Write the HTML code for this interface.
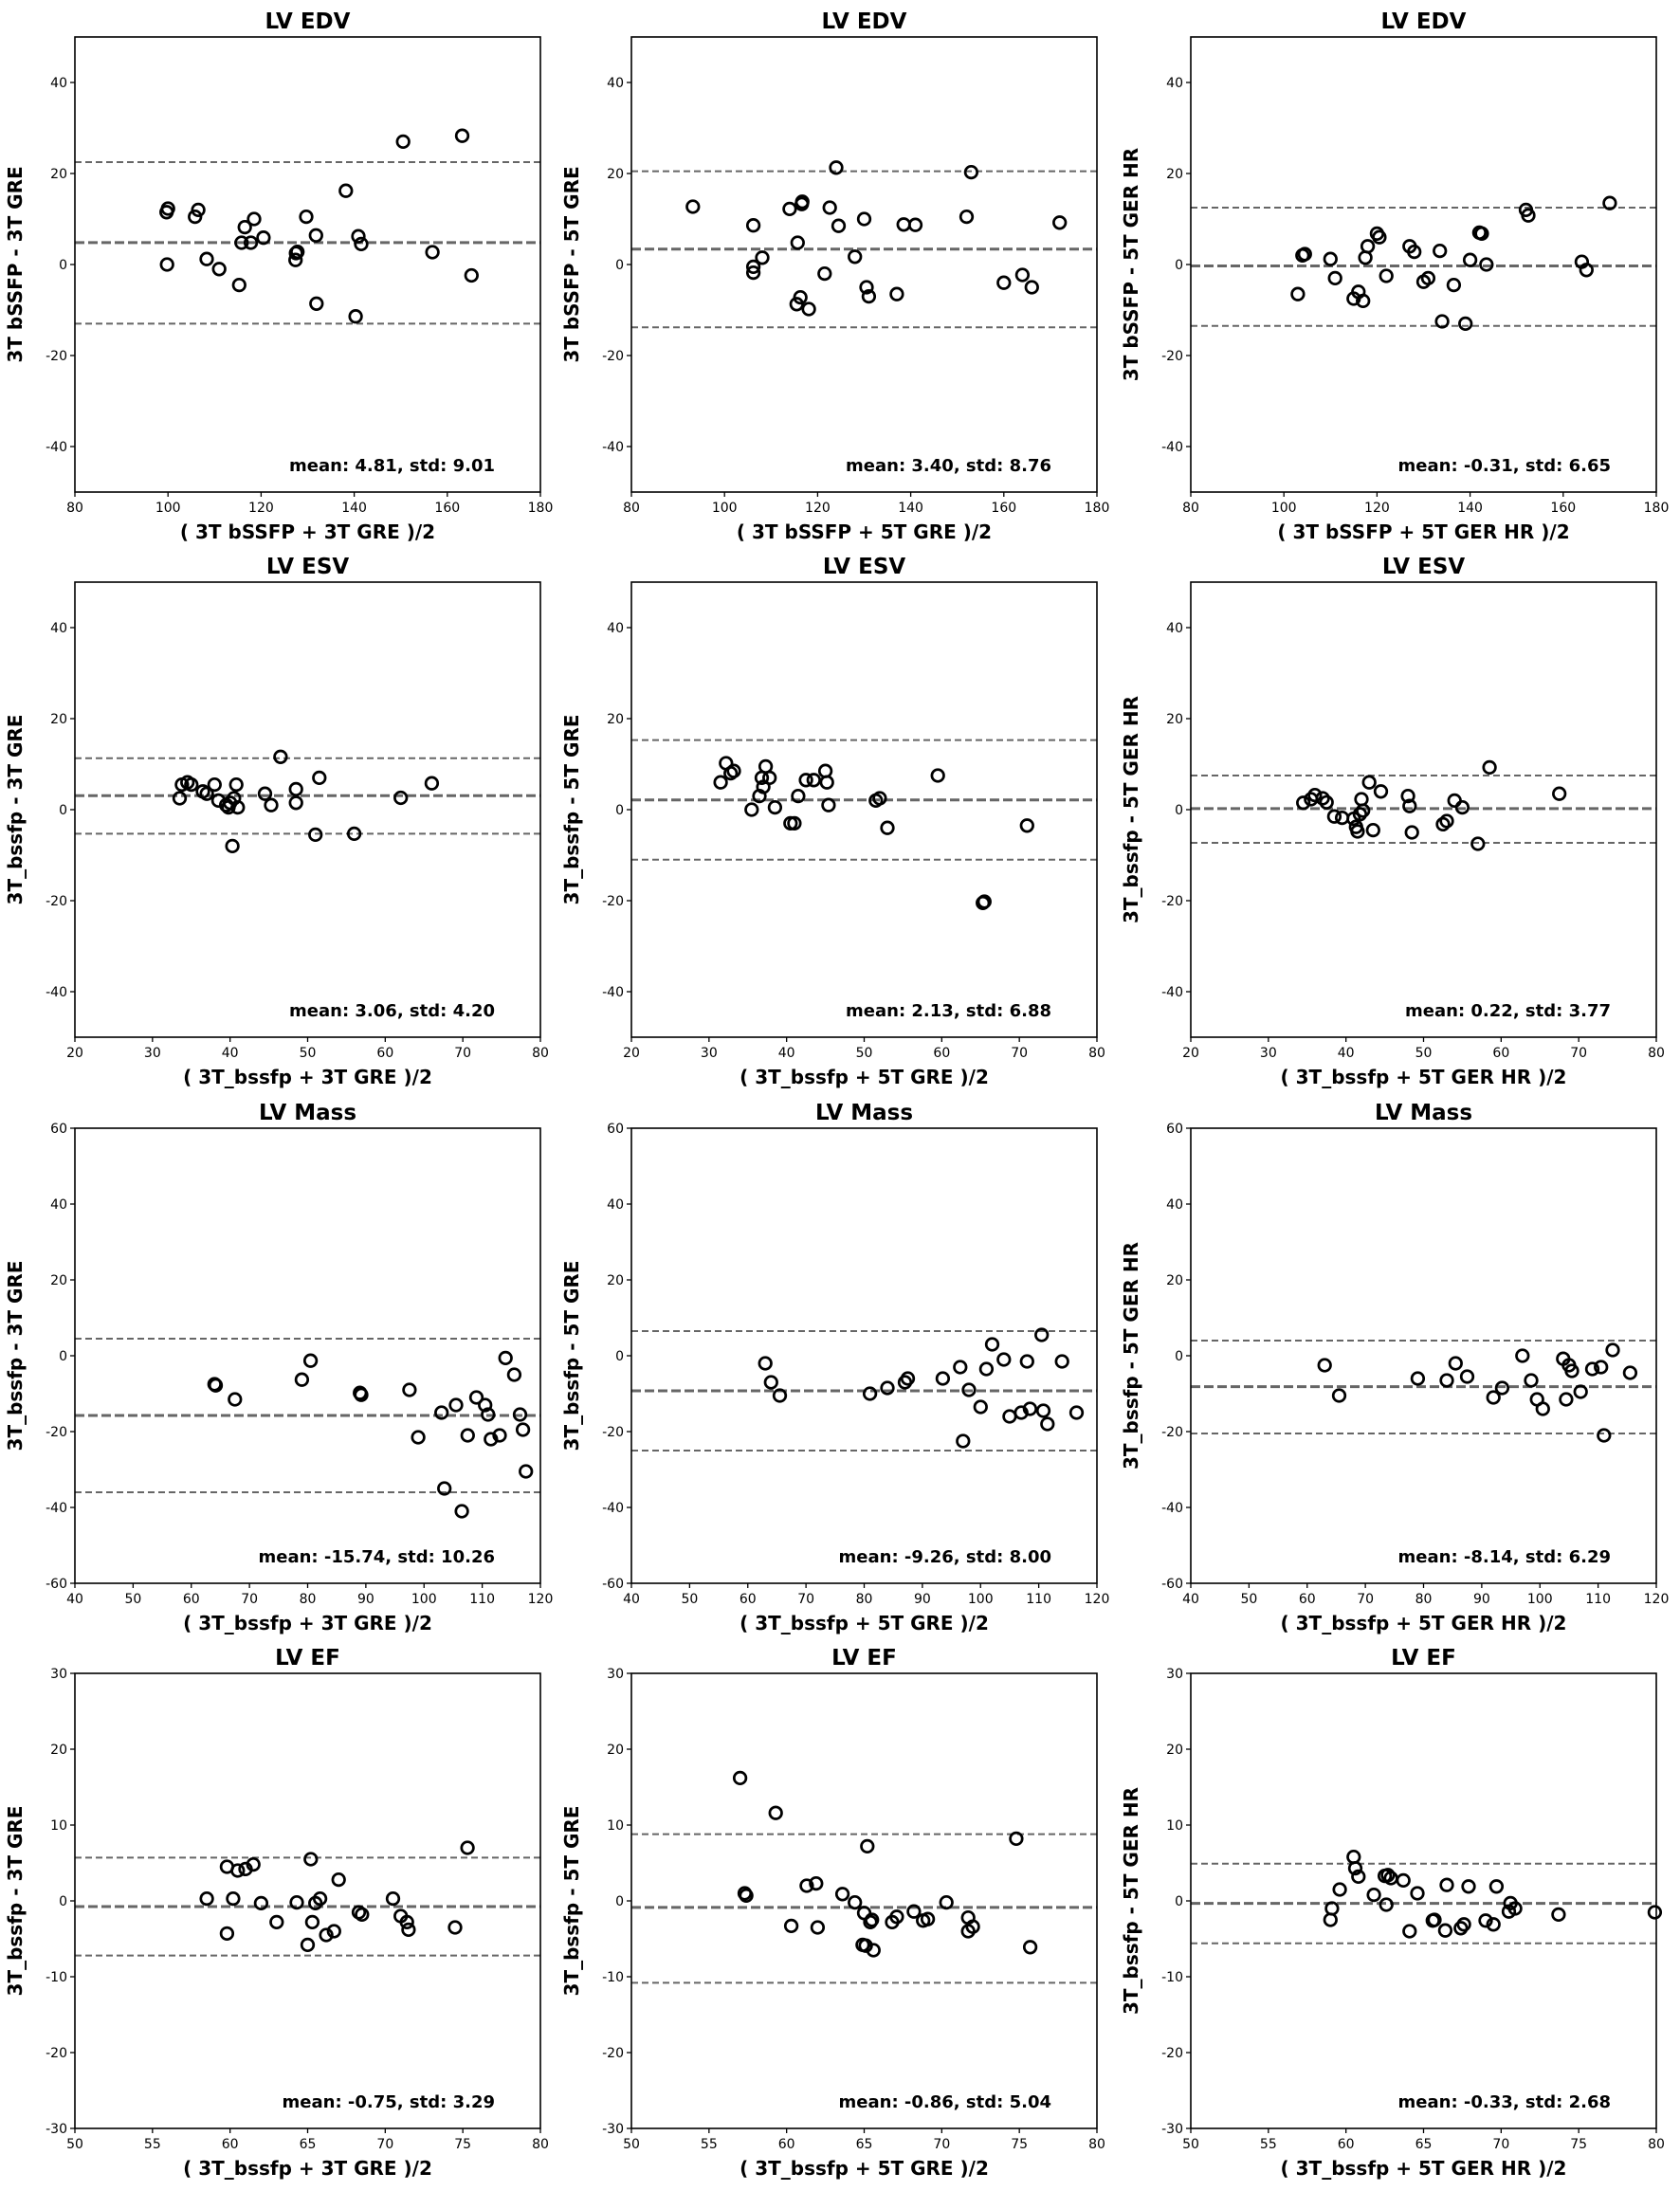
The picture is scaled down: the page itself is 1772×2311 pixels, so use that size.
<!DOCTYPE html>
<html><head><meta charset="utf-8"><style>
html,body{margin:0;padding:0;background:#fff;}
svg{display:block;font-family:"DejaVu Sans","Liberation Sans",sans-serif;}
</style></head><body>
<svg id="s" width="1772" height="2311" viewBox="0 0 1772 2311" xmlns="http://www.w3.org/2000/svg"></svg>
<script>
const LEFTS=[79,666,1256], TOPS=[39,614,1190,1765], W=491, H=480;
const rows=[
 {title:"LV EDV",xr:[80,180],xs:20,yr:[-50,50],ys:20,yt:[-40,-20,0,20,40]},
 {title:"LV ESV",xr:[20,80],xs:10,yr:[-50,50],ys:20,yt:[-40,-20,0,20,40]},
 {title:"LV Mass",xr:[40,120],xs:10,yr:[-60,60],ys:20,yt:[-60,-40,-20,0,20,40,60]},
 {title:"LV EF",xr:[50,80],xs:5,yr:[-30,30],ys:10,yt:[-30,-20,-10,0,10,20,30]}
];
const panels=[
{yl:"3T bSSFP - 3T GRE",xl:"( 3T bSSFP + 3T GRE )/2",m:"mean: 4.81, std: 9.01",L:[22.5,4.81,-13],p:[[99.7,11.5],[100,12.3],[99.8,0],[105.8,10.5],[106.5,12],[108.3,1.2],[111,-1],[115.3,-4.5],[115.8,4.8],[116.5,8.2],[117.8,4.8],[118.5,10],[120.5,5.9],[127.5,2.5],[127.8,2.8],[127.4,1],[129.7,10.5],[131.8,6.4],[131.9,-8.6],[138.2,16.2],[140.3,-11.4],[140.9,6.2],[141.5,4.5],[150.5,27],[156.8,2.7],[163.2,28.3],[165.2,-2.4]]},
{yl:"3T bSSFP - 5T GRE",xl:"( 3T bSSFP + 5T GRE )/2",m:"mean: 3.40, std: 8.76",L:[20.5,3.4,-13.8],p:[[93.2,12.7],[106.2,8.6],[106.2,-0.5],[106.2,-1.8],[108.1,1.5],[114,12.2],[115.7,4.8],[116.3,-7.2],[115.5,-8.7],[116.7,13.8],[116.6,13.3],[118.1,-9.8],[121.5,-2],[122.6,12.5],[124,21.3],[124.5,8.5],[128,1.7],[130,10],[130.5,-5],[131,-7],[137,-6.5],[138.5,8.8],[141,8.7],[152,10.5],[153,20.3],[160,-4],[164,-2.3],[166,-5],[172,9.2]]},
{yl:"3T bSSFP - 5T GER HR",xl:"( 3T bSSFP + 5T GER HR )/2",m:"mean: -0.31, std: 6.65",L:[12.5,-0.31,-13.5],p:[[103,-6.5],[104,2],[104.5,2.3],[110,1.2],[111,-3],[115,-7.5],[116,-6],[117,-8],[117.5,1.5],[118,4],[120,6.8],[120.5,6],[122,-2.5],[127,4],[128,2.8],[130,-3.8],[131,-3],[133.5,3],[134,-12.5],[136.5,-4.5],[139,-13],[140,1],[142,7],[142.5,6.8],[143.5,0],[152,12],[152.5,10.8],[164,0.6],[165,-1.2],[170,13.5]]},
{yl:"3T_bssfp - 3T GRE",xl:"( 3T_bssfp + 3T GRE )/2",m:"mean: 3.06, std: 4.20",L:[11.3,3.06,-5.3],p:[[33.5,2.5],[33.8,5.5],[34.5,6],[35,5.5],[36.5,4],[37,3.5],[38,5.5],[38.5,2],[39.5,1],[39.8,0.5],[40,1.5],[40.5,2.5],[40.3,-8],[40.8,5.5],[41,0.5],[44.5,3.5],[45.3,1],[46.5,11.6],[48.5,4.5],[48.5,1.5],[51,-5.5],[51.5,7],[56,-5.3],[62,2.6],[66,5.8]]},
{yl:"3T_bssfp - 5T GRE",xl:"( 3T_bssfp + 5T GRE )/2",m:"mean: 2.13, std: 6.88",L:[15.3,2.13,-11],p:[[31.5,6],[32.2,10.2],[32.8,8],[33.2,8.5],[35.5,0],[36.5,3],[36.8,7],[37,5],[37.3,9.5],[37.8,7],[38.5,0.5],[40.5,-3],[41,-3],[41.5,3],[42.5,6.5],[43.5,6.5],[45,8.5],[45.2,6],[45.4,1],[51.5,2],[52,2.5],[53,-4],[59.5,7.5],[65.3,-20.5],[65.5,-20.2],[71,-3.5]]},
{yl:"3T_bssfp - 5T GER HR",xl:"( 3T_bssfp + 5T GER HR )/2",m:"mean: 0.22, std: 3.77",L:[7.5,0.22,-7.3],p:[[34.5,1.5],[35.5,2.3],[36,3.2],[37,2.5],[37.5,1.6],[38.5,-1.5],[39.5,-1.8],[41,-2],[41.3,-3.8],[41.5,-4.8],[41.8,-1],[42,2.3],[42.2,-0.2],[43,6],[43.5,-4.5],[44.5,4],[48,3],[48.2,0.8],[48.5,-5],[52.5,-3.2],[53,-2.5],[54,2],[55,0.5],[57,-7.5],[58.5,9.3],[67.5,3.5]]},
{yl:"3T_bssfp - 3T GRE",xl:"( 3T_bssfp + 3T GRE )/2",m:"mean: -15.74, std: 10.26",L:[4.5,-15.74,-36],p:[[64,-7.5],[64.2,-7.8],[67.5,-11.5],[79,-6.3],[80.5,-1.3],[89,-9.8],[89.2,-10.3],[97.5,-9],[99,-21.5],[103,-15],[103.5,-35],[105.5,-13],[106.5,-41],[107.5,-21],[109,-11],[110.5,-13],[111,-15.5],[111.5,-22],[113,-21],[114,-0.6],[115.5,-5],[116.5,-15.5],[117,-19.5],[117.5,-30.5]]},
{yl:"3T_bssfp - 5T GRE",xl:"( 3T_bssfp + 5T GRE )/2",m:"mean: -9.26, std: 8.00",L:[6.5,-9.26,-25],p:[[63,-2],[64,-7],[65.5,-10.5],[81,-10],[84,-8.5],[87,-7],[87.5,-6],[93.5,-6],[96.5,-3],[97,-22.5],[98,-9],[100,-13.5],[101,-3.5],[102,3],[104,-1],[105,-16],[107,-15],[108,-1.5],[108.5,-14],[110.5,5.5],[110.8,-14.5],[111.5,-18],[114,-1.5],[116.5,-15]]},
{yl:"3T_bssfp - 5T GER HR",xl:"( 3T_bssfp + 5T GER HR )/2",m:"mean: -8.14, std: 6.29",L:[4,-8.14,-20.5],p:[[63,-2.5],[65.5,-10.5],[79,-6],[84,-6.5],[85.5,-2],[87.5,-5.5],[92,-11],[93.5,-8.5],[97,0],[98.5,-6.5],[99.5,-11.5],[100.5,-14],[104,-0.8],[104.5,-11.5],[105,-2.5],[105.5,-4],[107,-9.5],[109,-3.5],[110.5,-3],[111,-21],[112.5,1.5],[115.5,-4.5]]},
{yl:"3T_bssfp - 3T GRE",xl:"( 3T_bssfp + 3T GRE )/2",m:"mean: -0.75, std: 3.29",L:[5.7,-0.75,-7.2],p:[[58.5,0.3],[59.8,-4.3],[59.8,4.5],[60.2,0.3],[60.5,4],[61,4.2],[61.5,4.8],[62,-0.3],[63,-2.8],[64.3,-0.2],[65,-5.8],[65.2,5.5],[65.3,-2.8],[65.5,-0.3],[65.8,0.3],[66.2,-4.5],[66.7,-4],[67,2.8],[68.3,-1.5],[68.5,-1.8],[70.5,0.3],[71,-2],[71.5,-3.8],[71.4,-2.8],[74.5,-3.5],[75.3,7]]},
{yl:"3T_bssfp - 5T GRE",xl:"( 3T_bssfp + 5T GRE )/2",m:"mean: -0.86, std: 5.04",L:[8.8,-0.86,-10.8],p:[[57,16.2],[57.3,1],[57.4,0.7],[59.3,11.6],[60.3,-3.3],[61.3,2],[61.9,2.3],[62,-3.5],[63.6,0.9],[64.4,-0.2],[65,-1.6],[64.9,-5.8],[65.1,-5.9],[65.2,7.2],[65.4,-2.8],[65.5,-2.5],[65.6,-6.5],[66.8,-2.8],[67.1,-2.1],[68.2,-1.4],[68.8,-2.6],[69.1,-2.4],[70.3,-0.2],[71.7,-2.2],[71.7,-4],[72,-3.4],[74.8,8.2],[75.7,-6.1]]},
{yl:"3T_bssfp - 5T GER HR",xl:"( 3T_bssfp + 5T GER HR )/2",m:"mean: -0.33, std: 2.68",L:[4.9,-0.33,-5.6],p:[[59,-2.5],[59.1,-1],[59.6,1.5],[60.5,5.8],[60.6,4.3],[60.8,3.2],[61.8,0.8],[62.5,3.3],[62.6,-0.5],[62.7,3.4],[62.9,3],[63.7,2.7],[64.1,-4],[64.6,1],[65.6,-2.6],[65.7,-2.5],[66.4,-3.9],[66.5,2.1],[67.4,-3.6],[67.6,-3.1],[67.9,1.9],[69,-2.6],[69.5,-3.1],[69.7,1.9],[70.5,-1.4],[70.6,-0.3],[70.9,-1],[73.7,-1.8],[79.9,-1.5]]}
];
let o="";
for(let r=0;r<4;r++)for(let c=0;c<3;c++){
 const R=rows[r],P=panels[r*3+c],x0=LEFTS[c],y0=TOPS[r];
 const X=v=>x0+(v-R.xr[0])/(R.xr[1]-R.xr[0])*W;
 const Y=v=>y0+H-(v-R.yr[0])/(R.yr[1]-R.yr[0])*H;
 P.L.forEach((v,i)=>{const y=Y(v).toFixed(1);
  o+=`<line x1="${x0}" x2="${x0+W}" y1="${y}" y2="${y}" stroke="#666" stroke-width="${i==1?3:2}" stroke-dasharray="${i==1?'10,4':'7,4'}"/>`;});
 P.p.forEach(q=>{o+=`<circle cx="${X(q[0]).toFixed(1)}" cy="${Y(q[1]).toFixed(1)}" r="6.3" fill="none" stroke="#000" stroke-width="2.7"/>`;});
 o+=`<rect x="${x0}" y="${y0}" width="${W}" height="${H}" fill="none" stroke="#000" stroke-width="1.6"/>`;
 for(let v=R.xr[0];v<=R.xr[1];v+=R.xs){const x=X(v);
  o+=`<line x1="${x}" x2="${x}" y1="${y0+H}" y2="${y0+H+5}" stroke="#000" stroke-width="1.3"/><text x="${x}" y="${y0+H+21}" font-size="14" text-anchor="middle">${v}</text>`;}
 R.yt.forEach(v=>{const y=Y(v);
  o+=`<line x1="${x0-5}" x2="${x0}" y1="${y}" y2="${y}" stroke="#000" stroke-width="1.3"/><text x="${x0-8}" y="${y+5}" font-size="14" text-anchor="end">${v}</text>`;});
 o+=`<text x="${x0+W/2}" y="${y0-9}" font-size="23" font-weight="bold" text-anchor="middle">${R.title}</text>`;
 o+=`<text x="${x0+W/2}" y="${y0+H+49}" font-size="20" font-weight="bold" text-anchor="middle">${P.xl}</text>`;
 o+=`<text x="${x0+W-48}" y="${y0+H-22}" font-size="18" font-weight="bold" text-anchor="end">${P.m}</text>`;
 const yc=y0+H/2, xc=x0-56;
 o+=`<text x="${xc}" y="${yc}" font-size="20" font-weight="bold" text-anchor="middle" transform="rotate(-90 ${xc} ${yc})">${P.yl}</text>`;
}
document.getElementById("s").innerHTML=o;
</script>
</body></html>
